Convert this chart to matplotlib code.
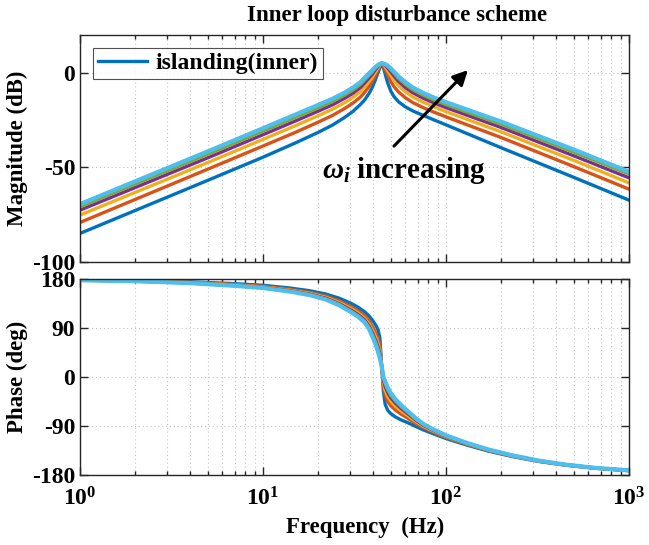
import matplotlib
matplotlib.use("Agg")
import matplotlib.pyplot as plt
from matplotlib.ticker import LogLocator, NullFormatter

plt.rcParams['font.family'] = ['Liberation Serif', 'DejaVu Serif']
plt.rcParams['font.weight'] = 'bold'
plt.rcParams['axes.labelweight'] = 'bold'
plt.rcParams['axes.unicode_minus'] = False
plt.rcParams['mathtext.fontset'] = 'custom'
plt.rcParams['mathtext.rm'] = 'Liberation Serif:bold'
plt.rcParams['mathtext.bf'] = 'Liberation Serif:bold'
plt.rcParams['mathtext.it'] = 'Liberation Serif:italic'

# frequency points (Hz)
freq_mag = [1, 5, 10, 15, 20, 24, 28, 31, 34, 36, 38, 39.5, 41, 42, 43, 44, 44.5,
            45, 46, 47, 48, 50, 52, 55, 60, 66, 75, 85, 100, 200, 500, 1000]
freq_phase = [1, 2, 4, 7, 10, 14, 18, 22, 26, 30, 33, 36, 38, 40, 41.5, 42.5, 43.5, 44.5,
              45.5, 46.5, 48, 50, 53, 57, 62, 68, 75, 85, 100, 130, 170, 230, 320, 450, 650, 1000]

# magnitude (dB), one list per omega_i value
mag_w1 = [-84.9, -56.8, -44.6, -37.1, -31.5, -27.6, -23.5, -20.4, -16.8, -14.2, -10.8, -7.8, -4.0, -1.2, 1.4, 4.2, 5.0,
          4.2, 1.2, -2.3, -5.3, -9.8, -12.6, -15.3, -18.0, -20.2, -22.5, -24.7, -27.5, -39.6, -55.3, -67.3]
mag_w2 = [-79.1, -50.9, -38.7, -31.5, -26.1, -22.5, -18.8, -16.0, -12.9, -10.2, -7.2, -4.6, -1.6, 0.6, 2.6, 4.5, 5.0,
          4.6, 3.0, 0.9, -1.2, -4.7, -7.3, -10.1, -13.2, -15.8, -18.4, -20.6, -23.3, -34.2, -49.6, -61.5]
mag_w3 = [-75.2, -47.4, -35.2, -28.0, -22.7, -19.2, -15.7, -13.0, -10.0, -7.3, -4.6, -2.4, 0.2, 1.9, 3.4, 4.7, 5.0,
          4.8, 3.9, 2.6, 1.2, -1.5, -3.9, -6.8, -10.0, -12.8, -15.5, -17.8, -20.5, -31.2, -46.3, -58.2]
mag_w4 = [-72.6, -44.9, -32.7, -25.5, -20.3, -16.9, -13.4, -10.8, -7.8, -5.2, -2.7, -0.8, 1.5, 2.8, 3.9, 4.8, 5.0,
          4.9, 4.4, 3.6, 2.6, 0.4, -1.7, -4.5, -7.8, -10.6, -13.4, -15.7, -18.4, -28.9, -43.9, -55.5]
mag_w5 = [-70.8, -43.0, -30.8, -23.6, -18.5, -15.1, -11.7, -9.1, -6.2, -3.7, -1.3, 0.4, 2.4, 3.4, 4.2, 4.9, 5.0,
          5.0, 4.7, 4.1, 3.4, 1.6, -0.3, -3.0, -6.2, -9.0, -11.8, -14.1, -16.8, -27.2, -42.0, -53.5]
mag_w6 = [-69.4, -41.5, -29.3, -22.1, -17.0, -13.7, -10.4, -7.8, -5.0, -2.5, -0.2, 1.4, 3.0, 3.8, 4.5, 4.9, 5.0,
          5.0, 4.8, 4.4, 3.8, 2.3, 0.6, -1.9, -5.0, -7.8, -10.6, -12.9, -15.5, -25.8, -40.6, -52.3]

# phase (deg)
phase_w1 = [178.6, 177.4, 175.0, 171.5, 168.5, 163.5, 158.5, 152.5, 145.0, 136.0, 128.5, 119.5, 112.0, 102.5, 94.0, 87.0, 72.0, 20.0,
            -27.0, -50.0, -61.0, -67.5, -73.5, -79.0, -84.0, -90.5, -97.0, -104.0, -113.0, -125.0, -136.0, -146.0, -155.0, -162.0, -167.5, -172.0]
phase_w2 = [178.3, 176.9, 174.0, 170.0, 166.6, 161.0, 155.4, 148.6, 140.0, 129.8, 121.7, 112.0, 102.7, 90.3, 79.7, 71.1, 57.3, 20.0,
            -16.6, -33.7, -44.7, -53.0, -60.9, -68.6, -75.9, -84.5, -92.7, -100.9, -110.7, -123.5, -134.8, -145.1, -154.4, -161.6, -167.2, -171.8]
phase_w3 = [178.1, 176.5, 173.5, 169.0, 165.4, 159.5, 153.6, 146.4, 137.0, 126.2, 117.8, 107.5, 97.3, 83.2, 71.3, 61.9, 48.7, 20.0,
            -10.4, -24.3, -35.3, -44.5, -53.6, -62.4, -71.1, -81.0, -90.3, -99.1, -109.3, -122.5, -134.2, -144.7, -154.0, -161.3, -167.1, -171.7]
phase_w4 = [178.0, 176.3, 173.1, 168.4, 164.6, 158.5, 152.3, 144.8, 134.9, 123.6, 115.0, 104.4, 93.4, 78.1, 65.4, 55.3, 42.6, 20.0,
            -6.1, -17.5, -28.5, -38.5, -48.3, -58.1, -67.7, -78.5, -88.5, -97.8, -108.4, -121.9, -133.7, -144.3, -153.8, -161.1, -167.0, -171.6]
phase_w5 = [177.9, 176.1, 172.8, 167.9, 164.0, 157.7, 151.3, 143.5, 133.3, 121.6, 112.8, 102.0, 90.4, 74.2, 60.8, 50.2, 37.9, 20.0,
            -2.8, -12.3, -23.3, -33.8, -44.3, -54.8, -65.1, -76.6, -87.1, -96.8, -107.6, -121.4, -133.3, -144.0, -153.6, -161.0, -166.9, -171.6]
phase_w6 = [177.8, 176.0, 172.5, 167.5, 163.5, 157.0, 150.5, 142.5, 132.0, 120.0, 111.0, 100.0, 88.0, 71.0, 57.0, 46.0, 34.0, 20.0,
            0.0, -8.0, -19.0, -30.0, -41.0, -52.0, -63.0, -75.0, -86.0, -96.0, -107.0, -121.0, -133.0, -143.8, -153.4, -160.9, -166.8, -171.5]

mags = [mag_w1, mag_w2, mag_w3, mag_w4, mag_w5, mag_w6]
phases = [phase_w1, phase_w2, phase_w3, phase_w4, phase_w5, phase_w6]
colors = ['#0072BD', '#D95319', '#EDB120', '#7E2F8E', '#77AC30', '#4DBEEE']
widths = [2.4, 2.4, 2.4, 2.4, 2.4, 3.0]

fig = plt.figure(figsize=(6.49, 5.45), dpi=100)
ax1 = fig.add_axes([0.1233, 0.5193, 0.8459, 0.4165])
ax2 = fig.add_axes([0.1233, 0.1284, 0.8459, 0.3596])

for m, c, w in zip(mags, colors, widths):
    ax1.semilogx(freq_mag, m, color=c, lw=w, solid_joinstyle='round')
for p, c, w in zip(phases, colors, widths):
    ax2.semilogx(freq_phase, p, color=c, lw=w, solid_joinstyle='round')

ax1.lines[0].set_label('islanding(inner)')

for ax in (ax1, ax2):
    ax.set_xlim(1, 1000)
    ax.xaxis.set_major_locator(LogLocator(base=10, numticks=10))
    ax.xaxis.set_minor_locator(LogLocator(base=10, subs=range(2, 10), numticks=20))
    ax.xaxis.set_minor_formatter(NullFormatter())
    ax.tick_params(which='both', direction='in', top=True, right=True,
                   labelsize=17, width=1.0, color='#262626')
    ax.tick_params(which='major', length=6)
    ax.tick_params(which='minor', length=3)
    ax.grid(True, which='major', color='#c4c4c4', lw=0.8, linestyle=(0, (1, 2.5)))
    ax.grid(True, which='minor', axis='x', color='#c4c4c4', lw=0.8, linestyle=(0, (1, 2.5)))
    for s in ax.spines.values():
        s.set_color('#262626')
        s.set_linewidth(1.0)

ax1.set_ylim(-100, 20)
ax1.set_yticks([-100, -50, 0])
ax1.set_xticklabels([])
ax1.set_ylabel('Magnitude (dB)', fontsize=16.5)

ax2.set_ylim(-180, 180)
ax2.set_yticks([-180, -90, 0, 90, 180])
ax2.set_xticks([1, 10, 100, 1000])
ax2.set_xticklabels([r'$10^{0}$', r'$10^{1}$', r'$10^{2}$', r'$10^{3}$'])
ax2.tick_params(axis='x', pad=9)
ax2.set_ylabel('Phase (deg)', fontsize=16.5)
ax2.set_xlabel('Frequency  (Hz)', fontsize=16.5)
ax2.xaxis.set_label_coords(0.52, -0.215)
ax1.yaxis.set_label_coords(-0.094, 0.5)
ax2.yaxis.set_label_coords(-0.094, 0.5)

fig.text(0.612, 0.972, 'Inner loop disturbance scheme', ha='center', va='center', fontsize=16.5)

leg = ax1.legend(loc='upper left', fontsize=17, handlelength=2.1, frameon=True,
                 fancybox=False, edgecolor='#262626', borderaxespad=0.55,
                 borderpad=0.2, handletextpad=0.35)
leg.get_frame().set_linewidth(0.8)

ax1.annotate('', xy=(135, 2.5), xytext=(50.7, -39.8),
             arrowprops=dict(arrowstyle='-|>', color='black', lw=2.2, mutation_scale=22))
ax1.text(59, -51.4, r'$\omega_i$ increasing', fontsize=21, ha='center', va='center')

fig.savefig('out.png', dpi=100)
